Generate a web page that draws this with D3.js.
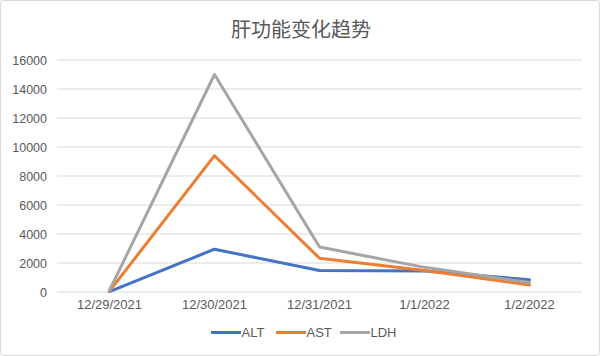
<!DOCTYPE html>
<html><head><meta charset="utf-8">
<script src="https://cdn.jsdelivr.net/npm/d3@7"></script>
<style>body{margin:0;background:#fff;font-family:"Noto Sans CJK SC","Noto Sans",sans-serif;}</style>
</head><body><svg id="c" width="600" height="356"></svg>
<script>
const categories = ["12/29/2021","12/30/2021","12/31/2021","1/1/2022","1/2/2022"];
const seriesNames = ["ALT","AST","LDH"];
const colors = ["#4472C4","#ED7D31","#A5A5A5"];
const ALT = [30, 2950, 1480, 1450, 850];
const AST = [60, 9400, 2330, 1480, 480];
const LDH = [120, 15000, 3100, 1700, 650];
const yTicks = [0,2000,4000,6000,8000,10000,12000,14000,16000];
const title = "肝功能变化趋势";

(function(){
const svg = d3.select("#c");
svg.append("rect").attr("x",0.5).attr("y",0.5).attr("width",599).attr("height",355)
  .attr("fill","#fff").attr("stroke","#d9d9d9").attr("rx",3);
const pL=57, pR=582, pT=60, pB=292;
const x = d3.scaleBand().domain(categories).range([pL,pR]);
const y = d3.scaleLinear().domain([0,16000]).range([pB,pT]);
const lf = "'Liberation Sans',Arial,sans-serif";

svg.append("g").selectAll("line").data(yTicks).join("line")
  .attr("x1",pL).attr("x2",pR).attr("y1",d=>y(d)).attr("y2",d=>y(d))
  .attr("stroke","#d9d9d9").attr("stroke-width",1);

const yAxis = svg.append("g").attr("transform",`translate(${pL},0)`)
  .call(d3.axisLeft(y).tickValues(yTicks).tickSize(0).tickPadding(10).tickFormat(d3.format("d")));
yAxis.select(".domain").remove();
yAxis.selectAll("text").attr("fill","#595959").style("font-size","12.5px").style("font-family",lf);

const xAxis = svg.append("g").attr("transform",`translate(0,${pB})`)
  .call(d3.axisBottom(x).tickSize(0).tickPadding(8));
xAxis.select(".domain").remove();
xAxis.selectAll("text").attr("fill","#595959").style("font-size","13px").style("font-family",lf);

const data = [ALT,AST,LDH];
const line = d3.line().x((d,i)=>x(categories[i])+x.bandwidth()/2).y(d=>y(d));
data.forEach((s,k)=>{
  svg.append("path").datum(s).attr("d",line).attr("fill","none")
    .attr("stroke",colors[k]).attr("stroke-width",3).attr("stroke-linejoin","round").attr("stroke-linecap","round");
});

svg.append("text").attr("x",301).attr("y",37).attr("text-anchor","middle")
  .attr("fill","#595959").style("font-size","20px").text(title);

const lg = svg.append("g");
const starts=[211,276,340];
seriesNames.forEach((n,k)=>{
  const g = lg.append("g").attr("transform",`translate(${starts[k]},332.5)`);
  g.append("line").attr("x1",0).attr("x2",30).attr("y1",0).attr("y2",0).attr("stroke",colors[k]).attr("stroke-width",3);
  g.append("text").attr("x",30.5).attr("y",4.7).attr("fill","#595959").style("font-size","13px")
   .style("font-family",lf).text(n);
});
})();
</script></body></html>
